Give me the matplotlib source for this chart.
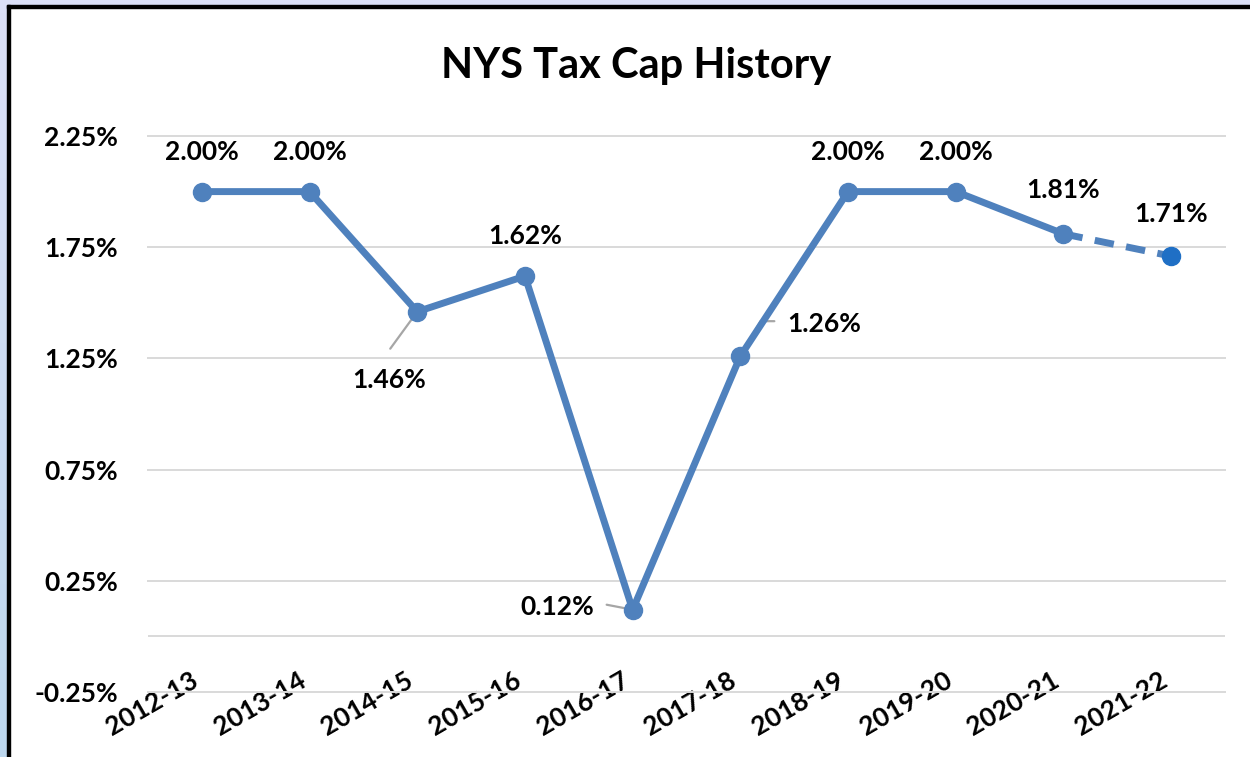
import numpy as np
import matplotlib
matplotlib.use('Agg')
import matplotlib.pyplot as plt
from matplotlib.patches import Rectangle
from matplotlib.colors import LinearSegmentedColormap

plt.rcParams['font.family'] = ['Lato', 'DejaVu Sans']
plt.rcParams['font.weight'] = 'bold'

# ---- data ----
seasons = ['2012-13', '2013-14', '2014-15', '2015-16', '2016-17',
           '2017-18', '2018-19', '2019-20', '2020-21', '2021-22']
cap_pct = [2.00, 2.00, 1.46, 1.62, 0.12, 1.26, 2.00, 2.00, 1.81, 1.71]
y_ticks = [-0.25, 0.25, 0.75, 1.25, 1.75, 2.25]

# label offsets from each point, in pixels (x, y up)
label_offsets = [(0, 40), (0, 40), (-28, -68), (0, 40), (-75, 3),
                 (84, 32), (0, 40), (0, 40), (0, 44), (0, 42)]

line_blue = '#4F81BD'
last_blue = '#1F6FC5'
grid_grey = '#D9D9D9'

W, H = 1250, 757
fig = plt.figure(figsize=(W / 100, H / 100), dpi=100)
fig.patch.set_facecolor('white')

# slide background strips + black frame
fig.patches.append(Rectangle((0, 1 - 5 / H), 1, 5 / H, transform=fig.transFigure,
                             color='#DCE0F8', zorder=0))
strip = fig.add_axes([0, 0, 7 / W, 1 - 5 / H])
strip.imshow(np.linspace(0, 1, 100).reshape(-1, 1), aspect='auto',
             cmap=LinearSegmentedColormap.from_list('bg', ['#DCE0F8', '#BDD7EE']))
strip.axis('off')
fig.patches.append(Rectangle((7 / W, 0), 3 / W, 1 - 5 / H, transform=fig.transFigure,
                             color='black', zorder=5))
fig.patches.append(Rectangle((7 / W, 1 - 8 / H), 1, 3 / H, transform=fig.transFigure,
                             color='black', zorder=5))

ax = fig.add_axes([148 / W, 65 / H, (1225 - 148) / W, (692 - 136) / H])
x = np.arange(len(seasons))

ax.set_xlim(-0.5, len(seasons) - 0.5)
ax.set_ylim(-0.25, 2.25)
ax.set_yticks(y_ticks)
ax.set_yticklabels([f'{v:.2f}%' for v in y_ticks])
ax.set_xticks(x)
ax.set_xticklabels(seasons, rotation=30, ha='right', va='top')
ax.tick_params(axis='y', length=0, pad=21.5, labelsize=19)
ax.tick_params(axis='x', length=0, pad=-17.3, labelsize=19)
for s in ax.spines.values():
    s.set_visible(False)
ax.yaxis.grid(True, color=grid_grey, lw=1.4)
for gl in ax.get_ygridlines():
    gl.set_clip_on(False)
ax.axhline(0, color=grid_grey, lw=1.4, zorder=1)
ax.set_axisbelow(True)

# solid part, dashed projection, markers
ax.plot(x[:-1], cap_pct[:-1], color=line_blue, lw=5, marker='o', ms=13,
        solid_capstyle='round', zorder=3)
ax.plot(x[-2:], cap_pct[-2:], color=line_blue, lw=5, dashes=(2.8, 1.8), zorder=3)
ax.plot(x[-1], cap_pct[-1], color=last_blue, marker='o', ms=13, zorder=4)

# data labels
for xi, v, (dx, dy) in zip(x, cap_pct, label_offsets):
    ax.annotate(f'{v:.2f}%', (xi, v), xytext=(dx, dy), textcoords='offset pixels',
                ha='center', va='center', fontsize=19, fontweight='bold', zorder=6)

# leader lines
lead = dict(arrowstyle='-', color='#A6A6A6', lw=1.6, shrinkA=0, shrinkB=0)
ax.annotate('', (x[2], cap_pct[2]), xytext=(-27, -37), textcoords='offset pixels',
            arrowprops=lead, zorder=2)
ax.annotate('', (x[4], cap_pct[4]), xytext=(-26, 5), textcoords='offset pixels',
            arrowprops=lead, zorder=2)
ax.annotate('', (x[5], cap_pct[5]), xytext=(34, 35), textcoords='offset pixels',
            arrowprops=dict(lead, connectionstyle='angle,angleA=180,angleB=60,rad=0'),
            zorder=2)

fig.text(636 / W, 1 - 66 / H, 'NYS Tax Cap History', ha='center', va='center',
         fontsize=30, fontweight='bold')

fig.savefig('out.png', dpi=100)
